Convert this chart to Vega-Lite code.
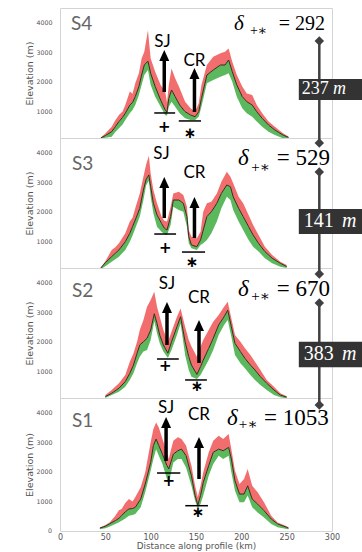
{
"$schema": "https://vega.github.io/schema/vega-lite/v6.json",
"padding": {"left": 24, "top": 7, "right": 0, "bottom": 0},
"bounds": "flush",
"spacing": 0,
"datasets": {
"t": [
{"p":"S4","x":45,"hi":120,"mid":100,"lo":60},{"p":"S4","x":50,"hi":250,"mid":180,"lo":110},{"p":"S4","x":57,"hi":485,"mid":315,"lo":145},{"p":"S4","x":61,"hi":700,"mid":480,"lo":300},{"p":"S4","x":65,"hi":880,"mid":655,"lo":430},{"p":"S4","x":69,"hi":1000,"mid":800,"lo":560},{"p":"S4","x":72,"hi":1215,"mid":935,"lo":710},{"p":"S4","x":77,"hi":1670,"mid":1215,"lo":935},{"p":"S4","x":80,"hi":1600,"mid":1300,"lo":1050},{"p":"S4","x":83,"hi":1950,"mid":1500,"lo":1215},{"p":"S4","x":87,"hi":2290,"mid":1840,"lo":1555},{"p":"S4","x":90,"hi":2795,"mid":2230,"lo":1895},{"p":"S4","x":93,"hi":3020,"mid":2570,"lo":2230},{"p":"S4","x":97,"hi":3750,"mid":2700,"lo":2400},{"p":"S4","x":100,"hi":2795,"mid":2290,"lo":1895},{"p":"S4","x":105,"hi":2345,"mid":1840,"lo":1500},{"p":"S4","x":111,"hi":1895,"mid":1385,"lo":1160},{"p":"S4","x":116,"hi":1670,"mid":1050,"lo":880},{"p":"S4","x":118,"hi":1300,"mid":980,"lo":850},{"p":"S4","x":120,"hi":1895,"mid":1440,"lo":1160},{"p":"S4","x":123,"hi":2455,"mid":1725,"lo":1330},{"p":"S4","x":127,"hi":2120,"mid":1500,"lo":1160},{"p":"S4","x":132,"hi":1780,"mid":1215,"lo":935},{"p":"S4","x":138,"hi":1330,"mid":990,"lo":765},{"p":"S4","x":144,"hi":1105,"mid":880,"lo":710},{"p":"S4","x":149,"hi":990,"mid":820,"lo":710},{"p":"S4","x":153,"hi":1275,"mid":990,"lo":820},{"p":"S4","x":156,"hi":1895,"mid":1440,"lo":1160},{"p":"S4","x":162,"hi":2570,"mid":2230,"lo":1950},{"p":"S4","x":169,"hi":2850,"mid":2400,"lo":2060},{"p":"S4","x":177,"hi":2965,"mid":2570,"lo":2175},{"p":"S4","x":182,"hi":3020,"mid":2570,"lo":2230},{"p":"S4","x":186,"hi":3130,"mid":2740,"lo":2290},{"p":"S4","x":190,"hi":2680,"mid":2345,"lo":2005},{"p":"S4","x":195,"hi":2230,"mid":1895,"lo":1500},{"p":"S4","x":201,"hi":1840,"mid":1500,"lo":1105},{"p":"S4","x":206,"hi":1610,"mid":1330,"lo":935},{"p":"S4","x":212,"hi":1555,"mid":1215,"lo":820},{"p":"S4","x":217,"hi":1215,"mid":990,"lo":655},{"p":"S4","x":223,"hi":935,"mid":765,"lo":485},{"p":"S4","x":230,"hi":655,"mid":540,"lo":315},{"p":"S4","x":237,"hi":485,"mid":370,"lo":200},{"p":"S4","x":246,"hi":260,"mid":200,"lo":90},{"p":"S4","x":252,"hi":150,"mid":120,"lo":60},
{"p":"S3","x":45,"hi":120,"mid":100,"lo":60},{"p":"S3","x":50,"hi":330,"mid":280,"lo":160},{"p":"S3","x":57,"hi":710,"mid":485,"lo":315},{"p":"S3","x":61,"hi":800,"mid":600,"lo":400},{"p":"S3","x":65,"hi":935,"mid":710,"lo":485},{"p":"S3","x":72,"hi":1275,"mid":990,"lo":710},{"p":"S3","x":77,"hi":1670,"mid":1275,"lo":990},{"p":"S3","x":80,"hi":1800,"mid":1500,"lo":1200},{"p":"S3","x":83,"hi":2120,"mid":1725,"lo":1440},{"p":"S3","x":88,"hi":2625,"mid":2120,"lo":1840},{"p":"S3","x":92,"hi":3190,"mid":2740,"lo":2400},{"p":"S3","x":95,"hi":3600,"mid":3100,"lo":2900},{"p":"S3","x":98,"hi":3900,"mid":3250,"lo":3050},{"p":"S3","x":100,"hi":3300,"mid":2850,"lo":2510},{"p":"S3","x":103,"hi":2740,"mid":2290,"lo":1950},{"p":"S3","x":107,"hi":2290,"mid":1895,"lo":1500},{"p":"S3","x":112,"hi":1840,"mid":1610,"lo":1330},{"p":"S3","x":115,"hi":1700,"mid":1450,"lo":1250},{"p":"S3","x":118,"hi":1670,"mid":1385,"lo":1215},{"p":"S3","x":122,"hi":2175,"mid":1840,"lo":1555},{"p":"S3","x":125,"hi":2625,"mid":2400,"lo":2175},{"p":"S3","x":131,"hi":2680,"mid":2400,"lo":2060},{"p":"S3","x":136,"hi":2570,"mid":2290,"lo":2005},{"p":"S3","x":140,"hi":2175,"mid":1840,"lo":1500},{"p":"S3","x":142,"hi":1385,"mid":1160,"lo":935},{"p":"S3","x":145,"hi":1160,"mid":880,"lo":765},{"p":"S3","x":151,"hi":1105,"mid":820,"lo":710},{"p":"S3","x":155,"hi":1330,"mid":1050,"lo":880},{"p":"S3","x":158,"hi":2005,"mid":1385,"lo":935},{"p":"S3","x":162,"hi":2290,"mid":1840,"lo":1050},{"p":"S3","x":167,"hi":2345,"mid":2005,"lo":1275},{"p":"S3","x":173,"hi":2625,"mid":2290,"lo":1670},{"p":"S3","x":178,"hi":3020,"mid":2625,"lo":2120},{"p":"S3","x":184,"hi":3360,"mid":2910,"lo":2510},{"p":"S3","x":188,"hi":3190,"mid":2850,"lo":2400},{"p":"S3","x":191,"hi":2965,"mid":2510,"lo":2060},{"p":"S3","x":197,"hi":2510,"mid":2120,"lo":1670},{"p":"S3","x":202,"hi":2290,"mid":1840,"lo":1385},{"p":"S3","x":208,"hi":1895,"mid":1500,"lo":1050},{"p":"S3","x":213,"hi":1555,"mid":1215,"lo":820},{"p":"S3","x":219,"hi":1215,"mid":935,"lo":655},{"p":"S3","x":226,"hi":820,"mid":655,"lo":430},{"p":"S3","x":234,"hi":540,"mid":430,"lo":260},{"p":"S3","x":243,"hi":315,"mid":260,"lo":145},{"p":"S3","x":250,"hi":200,"mid":150,"lo":100},
{"p":"S2","x":50,"hi":200,"mid":145,"lo":100},{"p":"S2","x":57,"hi":370,"mid":260,"lo":200},{"p":"S2","x":65,"hi":600,"mid":430,"lo":315},{"p":"S2","x":72,"hi":880,"mid":655,"lo":485},{"p":"S2","x":77,"hi":1330,"mid":935,"lo":710},{"p":"S2","x":81,"hi":1610,"mid":1215,"lo":935},{"p":"S2","x":85,"hi":2005,"mid":1610,"lo":1275},{"p":"S2","x":88,"hi":2400,"mid":1895,"lo":1500},{"p":"S2","x":92,"hi":2740,"mid":2005,"lo":1670},{"p":"S2","x":96,"hi":3190,"mid":2120,"lo":1725},{"p":"S2","x":100,"hi":3415,"mid":2400,"lo":2060},{"p":"S2","x":104,"hi":3700,"mid":2950,"lo":2700},{"p":"S2","x":107,"hi":3190,"mid":2625,"lo":2290},{"p":"S2","x":110,"hi":2850,"mid":2230,"lo":1950},{"p":"S2","x":114,"hi":2400,"mid":1895,"lo":1670},{"p":"S2","x":119,"hi":2005,"mid":1620,"lo":1450},{"p":"S2","x":123,"hi":2345,"mid":2005,"lo":1725},{"p":"S2","x":129,"hi":2850,"mid":2510,"lo":2230},{"p":"S2","x":133,"hi":3130,"mid":2850,"lo":2625},{"p":"S2","x":138,"hi":2510,"mid":2005,"lo":1555},{"p":"S2","x":142,"hi":2060,"mid":1500,"lo":1050},{"p":"S2","x":145,"hi":1840,"mid":1215,"lo":820},{"p":"S2","x":151,"hi":1500,"mid":900,"lo":740},{"p":"S2","x":155,"hi":1840,"mid":1160,"lo":880},{"p":"S2","x":158,"hi":2060,"mid":1385,"lo":1050},{"p":"S2","x":164,"hi":2400,"mid":1780,"lo":1385},{"p":"S2","x":169,"hi":2680,"mid":2120,"lo":1725},{"p":"S2","x":175,"hi":2910,"mid":2570,"lo":2230},{"p":"S2","x":181,"hi":3190,"mid":2850,"lo":2570},{"p":"S2","x":185,"hi":3360,"mid":3075,"lo":2740},{"p":"S2","x":189,"hi":2795,"mid":2510,"lo":2175},{"p":"S2","x":193,"hi":2230,"mid":1950,"lo":1555},{"p":"S2","x":199,"hi":2005,"mid":1670,"lo":1275},{"p":"S2","x":204,"hi":1780,"mid":1440,"lo":1105},{"p":"S2","x":210,"hi":1555,"mid":1215,"lo":880},{"p":"S2","x":215,"hi":1330,"mid":1050,"lo":710},{"p":"S2","x":221,"hi":1050,"mid":820,"lo":540},{"p":"S2","x":228,"hi":710,"mid":600,"lo":370},{"p":"S2","x":236,"hi":485,"mid":370,"lo":200},{"p":"S2","x":243,"hi":260,"mid":200,"lo":125},{"p":"S2","x":250,"hi":160,"mid":130,"lo":90},
{"p":"S1","x":44,"hi":120,"mid":100,"lo":60},{"p":"S1","x":50,"hi":200,"mid":160,"lo":90},{"p":"S1","x":55,"hi":300,"mid":250,"lo":150},{"p":"S1","x":61,"hi":520,"mid":350,"lo":240},{"p":"S1","x":65,"hi":700,"mid":430,"lo":300},{"p":"S1","x":68,"hi":745,"mid":520,"lo":350},{"p":"S1","x":72,"hi":950,"mid":650,"lo":420},{"p":"S1","x":76,"hi":1080,"mid":745,"lo":520},{"p":"S1","x":80,"hi":1000,"mid":760,"lo":540},{"p":"S1","x":83,"hi":1140,"mid":800,"lo":575},{"p":"S1","x":89,"hi":1480,"mid":1080,"lo":800},{"p":"S1","x":94,"hi":1985,"mid":1590,"lo":1310},{"p":"S1","x":100,"hi":3000,"mid":2320,"lo":2040},{"p":"S1","x":103,"hi":3450,"mid":2890,"lo":2435},{"p":"S1","x":106,"hi":3670,"mid":3110,"lo":2770},{"p":"S1","x":109,"hi":3500,"mid":2890,"lo":2550},{"p":"S1","x":113,"hi":3110,"mid":2600,"lo":2270},{"p":"S1","x":118,"hi":2660,"mid":2210,"lo":1760},{"p":"S1","x":120,"hi":2435,"mid":2100,"lo":1590},{"p":"S1","x":122,"hi":2700,"mid":2300,"lo":1900},{"p":"S1","x":125,"hi":3050,"mid":2600,"lo":2320},{"p":"S1","x":130,"hi":3170,"mid":2715,"lo":2435},{"p":"S1","x":134,"hi":3110,"mid":2770,"lo":2435},{"p":"S1","x":139,"hi":2890,"mid":2550,"lo":2150},{"p":"S1","x":145,"hi":2210,"mid":1870,"lo":1530},{"p":"S1","x":149,"hi":1530,"mid":1200,"lo":1020},{"p":"S1","x":152,"hi":1150,"mid":880,"lo":780},{"p":"S1","x":155,"hi":1530,"mid":1200,"lo":910},{"p":"S1","x":158,"hi":1985,"mid":1645,"lo":1200},{"p":"S1","x":164,"hi":2660,"mid":2210,"lo":1870},{"p":"S1","x":169,"hi":3050,"mid":2660,"lo":2270},{"p":"S1","x":175,"hi":3220,"mid":2770,"lo":2550},{"p":"S1","x":180,"hi":3110,"mid":2715,"lo":2435},{"p":"S1","x":186,"hi":3280,"mid":2830,"lo":2550},{"p":"S1","x":189,"hi":2770,"mid":2435,"lo":1985},{"p":"S1","x":193,"hi":2040,"mid":1700,"lo":1360},{"p":"S1","x":198,"hi":1590,"mid":1250,"lo":970},{"p":"S1","x":203,"hi":1760,"mid":1250,"lo":970},{"p":"S1","x":207,"hi":2100,"mid":1530,"lo":1200},{"p":"S1","x":212,"hi":1530,"mid":1080,"lo":800},{"p":"S1","x":218,"hi":1310,"mid":910,"lo":630},{"p":"S1","x":225,"hi":970,"mid":690,"lo":460},{"p":"S1","x":233,"hi":520,"mid":405,"lo":240},{"p":"S1","x":240,"hi":290,"mid":240,"lo":125},{"p":"S1","x":250,"hi":160,"mid":125,"lo":70},{"p":"S1","x":252,"hi":120,"mid":100,"lo":60}
],
"a": [
{"p":"S4","k":"lab","x":113,"y":3350,"t":"SJ"},{"p":"S4","k":"lab","x":148.3,"y":2706,"t":"CR"},
{"p":"S4","k":"arrow","x":115,"y":1658,"y2":3078},{"p":"S4","k":"arrow","x":148.3,"y":981,"y2":2470},
{"p":"S4","k":"seg","x":104,"x2":127,"y":947},{"p":"S4","k":"seg","x":131,"x2":155.5,"y":677},
{"p":"S4","k":"sym","x":115,"y":474,"t":"+"},{"p":"S4","k":"sym","x":143.4,"y":270,"t":"∗"},
{"p":"S4","k":"pl","x":12.1,"y":3755,"t":"S4"},
{"p":"S4","k":"d","x":192,"y":3755,"t":"δ"},{"p":"S4","k":"sub","x":209.5,"y":3586,"t":"+∗"},{"p":"S4","k":"val","x":292.3,"y":3755,"t":"= 292"},
{"p":"S4","k":"v","x":286,"y":3380,"y2":100},{"p":"S4","k":"dia","x":286,"y":3380},
{"p":"S4","k":"box","x":263.4,"x2":335,"y":1387,"y2":2097},{"p":"S4","k":"bn","x":296.4,"y":1742,"t":"237"},{"p":"S4","k":"bm","x":301.1,"y":1742,"t":"m"},
{"p":"S3","k":"lab","x":112,"y":3960,"t":"SJ"},{"p":"S3","k":"lab","x":148.3,"y":3300,"t":"CR"},
{"p":"S3","k":"arrow","x":115,"y":1790,"y2":3180},{"p":"S3","k":"arrow","x":148.3,"y":1115,"y2":2500},
{"p":"S3","k":"seg","x":104,"x2":128,"y":1250},{"p":"S3","k":"seg","x":134.5,"x2":160,"y":640},
{"p":"S3","k":"sym","x":116,"y":780,"t":"+"},{"p":"S3","k":"sym","x":145.6,"y":300,"t":"∗"},
{"p":"S3","k":"pl","x":13.2,"y":3417,"t":"S3"},
{"p":"S3","k":"d","x":196.3,"y":3586,"t":"δ"},{"p":"S3","k":"sub","x":210.8,"y":3350,"t":"+∗"},{"p":"S3","k":"val","x":297.8,"y":3586,"t":"= 529"},
{"p":"S3","k":"v","x":286,"y":4500,"y2":4330},{"p":"S3","k":"v","x":286,"y":3350,"y2":100},
{"p":"S3","k":"dia","x":286,"y":4330},{"p":"S3","k":"dia","x":286,"y":3350},
{"p":"S3","k":"box","x":263.4,"x2":335,"y":1252,"y2":2097},{"p":"S3","k":"bn","x":301.9,"y":1675,"t":"141"},{"p":"S3","k":"bm","x":311,"y":1675,"t":"m"},
{"p":"S2","k":"lab","x":118,"y":3960,"t":"SJ"},{"p":"S2","k":"lab","x":153.3,"y":3470,"t":"CR"},
{"p":"S2","k":"arrow","x":118,"y":1895,"y2":3350},{"p":"S2","k":"arrow","x":153.3,"y":1285,"y2":2740},
{"p":"S2","k":"seg","x":107,"x2":131,"y":1420},{"p":"S2","k":"seg","x":138,"x2":162,"y":710},
{"p":"S2","k":"sym","x":116,"y":1185,"t":"+"},{"p":"S2","k":"sym","x":151,"y":507,"t":"∗"},
{"p":"S2","k":"pl","x":13.2,"y":3518,"t":"S2"},
{"p":"S2","k":"d","x":196.3,"y":3540,"t":"δ"},{"p":"S2","k":"sub","x":210.8,"y":3383,"t":"+∗"},{"p":"S2","k":"val","x":297.8,"y":3540,"t":"= 670"},
{"p":"S2","k":"v","x":286,"y":4500,"y2":4296},{"p":"S2","k":"v","x":286,"y":3315,"y2":100},
{"p":"S2","k":"dia","x":286,"y":4296},{"p":"S2","k":"dia","x":286,"y":3315},
{"p":"S2","k":"box","x":263.4,"x2":335,"y":1140,"y2":2006},{"p":"S2","k":"bn","x":301.9,"y":1573,"t":"383"},{"p":"S2","k":"bm","x":311,"y":1573,"t":"m"},
{"p":"S1","k":"lab","x":117,"y":4160,"t":"SJ"},{"p":"S1","k":"lab","x":153.3,"y":3924,"t":"CR"},
{"p":"S1","k":"arrow","x":117,"y":2370,"y2":3860},{"p":"S1","k":"arrow","x":153.3,"y":1760,"y2":3180},
{"p":"S1","k":"seg","x":107,"x2":132.7,"y":1962},{"p":"S1","k":"seg","x":138.2,"x2":163.2,"y":856},
{"p":"S1","k":"sym","x":119.9,"y":1675,"t":"+"},{"p":"S1","k":"sym","x":152.2,"y":643,"t":"∗"},
{"p":"S1","k":"pl","x":13.2,"y":3518,"t":"S1"},
{"p":"S1","k":"d","x":184.2,"y":3586,"t":"δ"},{"p":"S1","k":"sub","x":197.2,"y":3450,"t":"+∗"},{"p":"S1","k":"val","x":296.4,"y":3586,"t":"= 1053"},
{"p":"S1","k":"v","x":286,"y":4500,"y2":4262},{"p":"S1","k":"dia","x":286,"y":4262},
{"p":"S1","k":"y0","x":-8.8,"y":0,"t":"0"}
]
},
"vconcat": [
{"width": 272, "height": 130, "layer": [
{"data":{"name":"t"},"transform":[{"filter":"datum.p=='S4'"}],"mark":{"type":"area","color":"#f26d6d","clip":true},"encoding":{"x":{"field":"x","type":"quantitative","scale":{"domain":[0,300],"nice":false},"axis":null},"y":{"field":"hi","type":"quantitative","scale":{"domain":[100,4500],"nice":false,"zero":false},"axis":{"values":[1000,2000,3000,4000],"title":"Elevation (m)","labelOverlap":false}},"y2":{"field":"mid"}}},
{"data":{"name":"t"},"transform":[{"filter":"datum.p=='S4'"}],"mark":{"type":"area","color":"#5cb85c","clip":true},"encoding":{"x":{"field":"x","type":"quantitative","axis":null},"y":{"field":"lo","type":"quantitative"},"y2":{"field":"mid"}}},
{"data":{"name":"t"},"transform":[{"filter":"datum.p=='S4'"}],"mark":{"type":"line","color":"#3a2a20","strokeWidth":1,"clip":true},"encoding":{"x":{"field":"x","type":"quantitative","axis":null},"y":{"field":"mid","type":"quantitative"}}},
{"data":{"name":"a"},"transform":[{"filter":"datum.p=='S4'&&datum.k=='seg'"}],"mark":{"type":"rule","color":"#000","strokeWidth":1.5},"encoding":{"x":{"field":"x","type":"quantitative","axis":null},"x2":{"field":"x2"},"y":{"field":"y","type":"quantitative"}}},
{"data":{"name":"a"},"transform":[{"filter":"datum.p=='S4'&&datum.k=='arrow'"}],"mark":{"type":"rule","color":"#000","strokeWidth":3.5,"y2Offset":6},"encoding":{"x":{"field":"x","type":"quantitative","axis":null},"y":{"field":"y","type":"quantitative"},"y2":{"field":"y2"}}},
{"data":{"name":"a"},"transform":[{"filter":"datum.p=='S4'&&datum.k=='arrow'"}],"mark":{"type":"point","shape":"M0,0L-1,2.2L1,2.2Z","size":100,"filled":true,"color":"#000","opacity":1},"encoding":{"x":{"field":"x","type":"quantitative","axis":null},"y":{"field":"y2","type":"quantitative"}}},
{"data":{"name":"a"},"transform":[{"filter":"datum.p=='S4'&&datum.k=='lab'"}],"mark":{"type":"text","font":"Lato","fontSize":17,"color":"#000","align":"center","baseline":"middle"},"encoding":{"x":{"field":"x","type":"quantitative","axis":null},"y":{"field":"y","type":"quantitative"},"text":{"field":"t"}}},
{"data":{"name":"a"},"transform":[{"filter":"datum.p=='S4'&&datum.k=='sym'"}],"mark":{"type":"text","font":"DejaVu Sans","fontWeight":"bold","fontSize":15,"color":"#000","align":"center","baseline":"middle"},"encoding":{"x":{"field":"x","type":"quantitative","axis":null},"y":{"field":"y","type":"quantitative"},"text":{"field":"t"}}},
{"data":{"name":"a"},"transform":[{"filter":"datum.p=='S4'&&datum.k=='pl'"}],"mark":{"type":"text","font":"Lato","fontSize":19,"color":"#666","align":"left","baseline":"alphabetic"},"encoding":{"x":{"field":"x","type":"quantitative","axis":null},"y":{"field":"y","type":"quantitative"},"text":{"field":"t"}}},
{"data":{"name":"a"},"transform":[{"filter":"datum.p=='S4'&&datum.k=='d'"}],"mark":{"type":"text","font":"Liberation Serif","fontStyle":"italic","fontSize":21,"color":"#000","align":"left","baseline":"alphabetic"},"encoding":{"x":{"field":"x","type":"quantitative","axis":null},"y":{"field":"y","type":"quantitative"},"text":{"field":"t"}}},
{"data":{"name":"a"},"transform":[{"filter":"datum.p=='S4'&&datum.k=='sub'"}],"mark":{"type":"text","font":"Liberation Serif, DejaVu Serif","fontSize":14,"color":"#000","align":"left","baseline":"alphabetic"},"encoding":{"x":{"field":"x","type":"quantitative","axis":null},"y":{"field":"y","type":"quantitative"},"text":{"field":"t"}}},
{"data":{"name":"a"},"transform":[{"filter":"datum.p=='S4'&&datum.k=='val'"}],"mark":{"type":"text","font":"Liberation Serif","fontSize":20,"color":"#000","align":"right","baseline":"alphabetic"},"encoding":{"x":{"field":"x","type":"quantitative","axis":null},"y":{"field":"y","type":"quantitative"},"text":{"field":"t"}}},
{"data":{"name":"a"},"transform":[{"filter":"datum.p=='S4'&&datum.k=='v'"}],"mark":{"type":"rule","color":"#404040","strokeWidth":2.5},"encoding":{"x":{"field":"x","type":"quantitative","axis":null},"y":{"field":"y","type":"quantitative"},"y2":{"field":"y2"}}},
{"data":{"name":"a"},"transform":[{"filter":"datum.p=='S4'&&datum.k=='dia'"}],"mark":{"type":"point","shape":"diamond","size":90,"filled":true,"color":"#404040","opacity":1},"encoding":{"x":{"field":"x","type":"quantitative","axis":null},"y":{"field":"y","type":"quantitative"}}},
{"data":{"name":"a"},"transform":[{"filter":"datum.p=='S4'&&datum.k=='box'"}],"mark":{"type":"rect","color":"#333333"},"encoding":{"x":{"field":"x","type":"quantitative","axis":null},"x2":{"field":"x2"},"y":{"field":"y","type":"quantitative"},"y2":{"field":"y2"}}},
{"data":{"name":"a"},"transform":[{"filter":"datum.p=='S4'&&datum.k=='bn'"}],"mark":{"type":"text","font":"Liberation Serif","fontSize":18,"color":"#fff","align":"right","baseline":"middle"},"encoding":{"x":{"field":"x","type":"quantitative","axis":null},"y":{"field":"y","type":"quantitative"},"text":{"field":"t"}}},
{"data":{"name":"a"},"transform":[{"filter":"datum.p=='S4'&&datum.k=='bm'"}],"mark":{"type":"text","font":"Liberation Serif","fontStyle":"italic","fontSize":18,"color":"#fff","align":"left","baseline":"middle"},"encoding":{"x":{"field":"x","type":"quantitative","axis":null},"y":{"field":"y","type":"quantitative"},"text":{"field":"t"}}}
]},
{"width": 272, "height": 130, "layer": [
{"data":{"name":"t"},"transform":[{"filter":"datum.p=='S3'"}],"mark":{"type":"area","color":"#f26d6d","clip":true},"encoding":{"x":{"field":"x","type":"quantitative","scale":{"domain":[0,300],"nice":false},"axis":null},"y":{"field":"hi","type":"quantitative","scale":{"domain":[100,4500],"nice":false,"zero":false},"axis":{"values":[1000,2000,3000,4000],"title":"Elevation (m)","labelOverlap":false}},"y2":{"field":"mid"}}},
{"data":{"name":"t"},"transform":[{"filter":"datum.p=='S3'"}],"mark":{"type":"area","color":"#5cb85c","clip":true},"encoding":{"x":{"field":"x","type":"quantitative","axis":null},"y":{"field":"lo","type":"quantitative"},"y2":{"field":"mid"}}},
{"data":{"name":"t"},"transform":[{"filter":"datum.p=='S3'"}],"mark":{"type":"line","color":"#3a2a20","strokeWidth":1,"clip":true},"encoding":{"x":{"field":"x","type":"quantitative","axis":null},"y":{"field":"mid","type":"quantitative"}}},
{"data":{"name":"a"},"transform":[{"filter":"datum.p=='S3'&&datum.k=='seg'"}],"mark":{"type":"rule","color":"#000","strokeWidth":1.5},"encoding":{"x":{"field":"x","type":"quantitative","axis":null},"x2":{"field":"x2"},"y":{"field":"y","type":"quantitative"}}},
{"data":{"name":"a"},"transform":[{"filter":"datum.p=='S3'&&datum.k=='arrow'"}],"mark":{"type":"rule","color":"#000","strokeWidth":3.5,"y2Offset":6},"encoding":{"x":{"field":"x","type":"quantitative","axis":null},"y":{"field":"y","type":"quantitative"},"y2":{"field":"y2"}}},
{"data":{"name":"a"},"transform":[{"filter":"datum.p=='S3'&&datum.k=='arrow'"}],"mark":{"type":"point","shape":"M0,0L-1,2.2L1,2.2Z","size":100,"filled":true,"color":"#000","opacity":1},"encoding":{"x":{"field":"x","type":"quantitative","axis":null},"y":{"field":"y2","type":"quantitative"}}},
{"data":{"name":"a"},"transform":[{"filter":"datum.p=='S3'&&datum.k=='lab'"}],"mark":{"type":"text","font":"Lato","fontSize":17,"color":"#000","align":"center","baseline":"middle"},"encoding":{"x":{"field":"x","type":"quantitative","axis":null},"y":{"field":"y","type":"quantitative"},"text":{"field":"t"}}},
{"data":{"name":"a"},"transform":[{"filter":"datum.p=='S3'&&datum.k=='sym'"}],"mark":{"type":"text","font":"DejaVu Sans","fontWeight":"bold","fontSize":15,"color":"#000","align":"center","baseline":"middle"},"encoding":{"x":{"field":"x","type":"quantitative","axis":null},"y":{"field":"y","type":"quantitative"},"text":{"field":"t"}}},
{"data":{"name":"a"},"transform":[{"filter":"datum.p=='S3'&&datum.k=='pl'"}],"mark":{"type":"text","font":"Lato","fontSize":19,"color":"#666","align":"left","baseline":"alphabetic"},"encoding":{"x":{"field":"x","type":"quantitative","axis":null},"y":{"field":"y","type":"quantitative"},"text":{"field":"t"}}},
{"data":{"name":"a"},"transform":[{"filter":"datum.p=='S3'&&datum.k=='d'"}],"mark":{"type":"text","font":"Liberation Serif","fontStyle":"italic","fontSize":23,"color":"#000","align":"left","baseline":"alphabetic"},"encoding":{"x":{"field":"x","type":"quantitative","axis":null},"y":{"field":"y","type":"quantitative"},"text":{"field":"t"}}},
{"data":{"name":"a"},"transform":[{"filter":"datum.p=='S3'&&datum.k=='sub'"}],"mark":{"type":"text","font":"Liberation Serif, DejaVu Serif","fontSize":15,"color":"#000","align":"left","baseline":"alphabetic"},"encoding":{"x":{"field":"x","type":"quantitative","axis":null},"y":{"field":"y","type":"quantitative"},"text":{"field":"t"}}},
{"data":{"name":"a"},"transform":[{"filter":"datum.p=='S3'&&datum.k=='val'"}],"mark":{"type":"text","font":"Liberation Serif","fontSize":23,"color":"#000","align":"right","baseline":"alphabetic"},"encoding":{"x":{"field":"x","type":"quantitative","axis":null},"y":{"field":"y","type":"quantitative"},"text":{"field":"t"}}},
{"data":{"name":"a"},"transform":[{"filter":"datum.p=='S3'&&datum.k=='v'"}],"mark":{"type":"rule","color":"#404040","strokeWidth":2.5},"encoding":{"x":{"field":"x","type":"quantitative","axis":null},"y":{"field":"y","type":"quantitative"},"y2":{"field":"y2"}}},
{"data":{"name":"a"},"transform":[{"filter":"datum.p=='S3'&&datum.k=='dia'"}],"mark":{"type":"point","shape":"diamond","size":90,"filled":true,"color":"#404040","opacity":1},"encoding":{"x":{"field":"x","type":"quantitative","axis":null},"y":{"field":"y","type":"quantitative"}}},
{"data":{"name":"a"},"transform":[{"filter":"datum.p=='S3'&&datum.k=='box'"}],"mark":{"type":"rect","color":"#333333"},"encoding":{"x":{"field":"x","type":"quantitative","axis":null},"x2":{"field":"x2"},"y":{"field":"y","type":"quantitative"},"y2":{"field":"y2"}}},
{"data":{"name":"a"},"transform":[{"filter":"datum.p=='S3'&&datum.k=='bn'"}],"mark":{"type":"text","font":"Liberation Serif","fontSize":20,"color":"#fff","align":"right","baseline":"middle"},"encoding":{"x":{"field":"x","type":"quantitative","axis":null},"y":{"field":"y","type":"quantitative"},"text":{"field":"t"}}},
{"data":{"name":"a"},"transform":[{"filter":"datum.p=='S3'&&datum.k=='bm'"}],"mark":{"type":"text","font":"Liberation Serif","fontStyle":"italic","fontSize":20,"color":"#fff","align":"left","baseline":"middle"},"encoding":{"x":{"field":"x","type":"quantitative","axis":null},"y":{"field":"y","type":"quantitative"},"text":{"field":"t"}}}
]},
{"width": 272, "height": 130, "layer": [
{"data":{"name":"t"},"transform":[{"filter":"datum.p=='S2'"}],"mark":{"type":"area","color":"#f26d6d","clip":true},"encoding":{"x":{"field":"x","type":"quantitative","scale":{"domain":[0,300],"nice":false},"axis":null},"y":{"field":"hi","type":"quantitative","scale":{"domain":[100,4500],"nice":false,"zero":false},"axis":{"values":[1000,2000,3000,4000],"title":"Elevation (m)","labelOverlap":false}},"y2":{"field":"mid"}}},
{"data":{"name":"t"},"transform":[{"filter":"datum.p=='S2'"}],"mark":{"type":"area","color":"#5cb85c","clip":true},"encoding":{"x":{"field":"x","type":"quantitative","axis":null},"y":{"field":"lo","type":"quantitative"},"y2":{"field":"mid"}}},
{"data":{"name":"t"},"transform":[{"filter":"datum.p=='S2'"}],"mark":{"type":"line","color":"#3a2a20","strokeWidth":1,"clip":true},"encoding":{"x":{"field":"x","type":"quantitative","axis":null},"y":{"field":"mid","type":"quantitative"}}},
{"data":{"name":"a"},"transform":[{"filter":"datum.p=='S2'&&datum.k=='seg'"}],"mark":{"type":"rule","color":"#000","strokeWidth":1.5},"encoding":{"x":{"field":"x","type":"quantitative","axis":null},"x2":{"field":"x2"},"y":{"field":"y","type":"quantitative"}}},
{"data":{"name":"a"},"transform":[{"filter":"datum.p=='S2'&&datum.k=='arrow'"}],"mark":{"type":"rule","color":"#000","strokeWidth":3.5,"y2Offset":6},"encoding":{"x":{"field":"x","type":"quantitative","axis":null},"y":{"field":"y","type":"quantitative"},"y2":{"field":"y2"}}},
{"data":{"name":"a"},"transform":[{"filter":"datum.p=='S2'&&datum.k=='arrow'"}],"mark":{"type":"point","shape":"M0,0L-1,2.2L1,2.2Z","size":100,"filled":true,"color":"#000","opacity":1},"encoding":{"x":{"field":"x","type":"quantitative","axis":null},"y":{"field":"y2","type":"quantitative"}}},
{"data":{"name":"a"},"transform":[{"filter":"datum.p=='S2'&&datum.k=='lab'"}],"mark":{"type":"text","font":"Lato","fontSize":17,"color":"#000","align":"center","baseline":"middle"},"encoding":{"x":{"field":"x","type":"quantitative","axis":null},"y":{"field":"y","type":"quantitative"},"text":{"field":"t"}}},
{"data":{"name":"a"},"transform":[{"filter":"datum.p=='S2'&&datum.k=='sym'"}],"mark":{"type":"text","font":"DejaVu Sans","fontWeight":"bold","fontSize":15,"color":"#000","align":"center","baseline":"middle"},"encoding":{"x":{"field":"x","type":"quantitative","axis":null},"y":{"field":"y","type":"quantitative"},"text":{"field":"t"}}},
{"data":{"name":"a"},"transform":[{"filter":"datum.p=='S2'&&datum.k=='pl'"}],"mark":{"type":"text","font":"Lato","fontSize":19,"color":"#666","align":"left","baseline":"alphabetic"},"encoding":{"x":{"field":"x","type":"quantitative","axis":null},"y":{"field":"y","type":"quantitative"},"text":{"field":"t"}}},
{"data":{"name":"a"},"transform":[{"filter":"datum.p=='S2'&&datum.k=='d'"}],"mark":{"type":"text","font":"Liberation Serif","fontStyle":"italic","fontSize":23,"color":"#000","align":"left","baseline":"alphabetic"},"encoding":{"x":{"field":"x","type":"quantitative","axis":null},"y":{"field":"y","type":"quantitative"},"text":{"field":"t"}}},
{"data":{"name":"a"},"transform":[{"filter":"datum.p=='S2'&&datum.k=='sub'"}],"mark":{"type":"text","font":"Liberation Serif, DejaVu Serif","fontSize":15,"color":"#000","align":"left","baseline":"alphabetic"},"encoding":{"x":{"field":"x","type":"quantitative","axis":null},"y":{"field":"y","type":"quantitative"},"text":{"field":"t"}}},
{"data":{"name":"a"},"transform":[{"filter":"datum.p=='S2'&&datum.k=='val'"}],"mark":{"type":"text","font":"Liberation Serif","fontSize":23,"color":"#000","align":"right","baseline":"alphabetic"},"encoding":{"x":{"field":"x","type":"quantitative","axis":null},"y":{"field":"y","type":"quantitative"},"text":{"field":"t"}}},
{"data":{"name":"a"},"transform":[{"filter":"datum.p=='S2'&&datum.k=='v'"}],"mark":{"type":"rule","color":"#404040","strokeWidth":2.5},"encoding":{"x":{"field":"x","type":"quantitative","axis":null},"y":{"field":"y","type":"quantitative"},"y2":{"field":"y2"}}},
{"data":{"name":"a"},"transform":[{"filter":"datum.p=='S2'&&datum.k=='dia'"}],"mark":{"type":"point","shape":"diamond","size":90,"filled":true,"color":"#404040","opacity":1},"encoding":{"x":{"field":"x","type":"quantitative","axis":null},"y":{"field":"y","type":"quantitative"}}},
{"data":{"name":"a"},"transform":[{"filter":"datum.p=='S2'&&datum.k=='box'"}],"mark":{"type":"rect","color":"#333333"},"encoding":{"x":{"field":"x","type":"quantitative","axis":null},"x2":{"field":"x2"},"y":{"field":"y","type":"quantitative"},"y2":{"field":"y2"}}},
{"data":{"name":"a"},"transform":[{"filter":"datum.p=='S2'&&datum.k=='bn'"}],"mark":{"type":"text","font":"Liberation Serif","fontSize":20,"color":"#fff","align":"right","baseline":"middle"},"encoding":{"x":{"field":"x","type":"quantitative","axis":null},"y":{"field":"y","type":"quantitative"},"text":{"field":"t"}}},
{"data":{"name":"a"},"transform":[{"filter":"datum.p=='S2'&&datum.k=='bm'"}],"mark":{"type":"text","font":"Liberation Serif","fontStyle":"italic","fontSize":20,"color":"#fff","align":"left","baseline":"middle"},"encoding":{"x":{"field":"x","type":"quantitative","axis":null},"y":{"field":"y","type":"quantitative"},"text":{"field":"t"}}}
]},
{"width": 272, "height": 133, "layer": [
{"data":{"name":"t"},"transform":[{"filter":"datum.p=='S1'"}],"mark":{"type":"area","color":"#f26d6d","clip":true},"encoding":{"x":{"field":"x","type":"quantitative","scale":{"domain":[0,300],"nice":false},"axis":{"values":[0,50,100,150,200,250,300],"title":"Distance along profile (km)","labelFlush":false,"labelOverlap":false}},"y":{"field":"hi","type":"quantitative","scale":{"domain":[0,4500],"nice":false},"axis":{"values":[1000,2000,3000,4000],"title":"Elevation (m)","labelOverlap":false}},"y2":{"field":"mid"}}},
{"data":{"name":"t"},"transform":[{"filter":"datum.p=='S1'"}],"mark":{"type":"area","color":"#5cb85c","clip":true},"encoding":{"x":{"field":"x","type":"quantitative"},"y":{"field":"lo","type":"quantitative"},"y2":{"field":"mid"}}},
{"data":{"name":"t"},"transform":[{"filter":"datum.p=='S1'"}],"mark":{"type":"line","color":"#3a2a20","strokeWidth":1,"clip":true},"encoding":{"x":{"field":"x","type":"quantitative"},"y":{"field":"mid","type":"quantitative"}}},
{"data":{"name":"a"},"transform":[{"filter":"datum.p=='S1'&&datum.k=='seg'"}],"mark":{"type":"rule","color":"#000","strokeWidth":1.5},"encoding":{"x":{"field":"x","type":"quantitative"},"x2":{"field":"x2"},"y":{"field":"y","type":"quantitative"}}},
{"data":{"name":"a"},"transform":[{"filter":"datum.p=='S1'&&datum.k=='arrow'"}],"mark":{"type":"rule","color":"#000","strokeWidth":3.5,"y2Offset":6},"encoding":{"x":{"field":"x","type":"quantitative"},"y":{"field":"y","type":"quantitative"},"y2":{"field":"y2"}}},
{"data":{"name":"a"},"transform":[{"filter":"datum.p=='S1'&&datum.k=='arrow'"}],"mark":{"type":"point","shape":"M0,0L-1,2.2L1,2.2Z","size":100,"filled":true,"color":"#000","opacity":1},"encoding":{"x":{"field":"x","type":"quantitative"},"y":{"field":"y2","type":"quantitative"}}},
{"data":{"name":"a"},"transform":[{"filter":"datum.p=='S1'&&datum.k=='lab'"}],"mark":{"type":"text","font":"Lato","fontSize":17,"color":"#000","align":"center","baseline":"middle"},"encoding":{"x":{"field":"x","type":"quantitative"},"y":{"field":"y","type":"quantitative"},"text":{"field":"t"}}},
{"data":{"name":"a"},"transform":[{"filter":"datum.p=='S1'&&datum.k=='sym'"}],"mark":{"type":"text","font":"DejaVu Sans","fontWeight":"bold","fontSize":15,"color":"#000","align":"center","baseline":"middle"},"encoding":{"x":{"field":"x","type":"quantitative"},"y":{"field":"y","type":"quantitative"},"text":{"field":"t"}}},
{"data":{"name":"a"},"transform":[{"filter":"datum.p=='S1'&&datum.k=='pl'"}],"mark":{"type":"text","font":"Lato","fontSize":19,"color":"#666","align":"left","baseline":"alphabetic"},"encoding":{"x":{"field":"x","type":"quantitative"},"y":{"field":"y","type":"quantitative"},"text":{"field":"t"}}},
{"data":{"name":"a"},"transform":[{"filter":"datum.p=='S1'&&datum.k=='d'"}],"mark":{"type":"text","font":"Liberation Serif","fontStyle":"italic","fontSize":23,"color":"#000","align":"left","baseline":"alphabetic"},"encoding":{"x":{"field":"x","type":"quantitative"},"y":{"field":"y","type":"quantitative"},"text":{"field":"t"}}},
{"data":{"name":"a"},"transform":[{"filter":"datum.p=='S1'&&datum.k=='sub'"}],"mark":{"type":"text","font":"Liberation Serif, DejaVu Serif","fontSize":15,"color":"#000","align":"left","baseline":"alphabetic"},"encoding":{"x":{"field":"x","type":"quantitative"},"y":{"field":"y","type":"quantitative"},"text":{"field":"t"}}},
{"data":{"name":"a"},"transform":[{"filter":"datum.p=='S1'&&datum.k=='val'"}],"mark":{"type":"text","font":"Liberation Serif","fontSize":23,"color":"#000","align":"right","baseline":"alphabetic"},"encoding":{"x":{"field":"x","type":"quantitative"},"y":{"field":"y","type":"quantitative"},"text":{"field":"t"}}},
{"data":{"name":"a"},"transform":[{"filter":"datum.p=='S1'&&datum.k=='v'"}],"mark":{"type":"rule","color":"#404040","strokeWidth":2.5},"encoding":{"x":{"field":"x","type":"quantitative"},"y":{"field":"y","type":"quantitative"},"y2":{"field":"y2"}}},
{"data":{"name":"a"},"transform":[{"filter":"datum.p=='S1'&&datum.k=='dia'"}],"mark":{"type":"point","shape":"diamond","size":90,"filled":true,"color":"#404040","opacity":1},"encoding":{"x":{"field":"x","type":"quantitative"},"y":{"field":"y","type":"quantitative"}}},
{"data":{"name":"a"},"transform":[{"filter":"datum.p=='S1'&&datum.k=='y0'"}],"mark":{"type":"text","font":"DejaVu Sans","fontSize":6.3,"color":"#555","align":"right","baseline":"middle"},"encoding":{"x":{"field":"x","type":"quantitative"},"y":{"field":"y","type":"quantitative"},"text":{"field":"t"}}}
]}
],
"config": {
"view": {"stroke": "#d4d4d4", "strokeWidth": 1},
"axis": {"grid": false, "ticks": false, "domain": false, "format": "d", "labelOverlap": false, "labelFont": "DejaVu Sans", "labelColor": "#555", "titleFont": "DejaVu Sans", "titleColor": "#555", "titleFontWeight": "normal"},
"axisY": {"labelFontSize": 6.3, "labelPadding": 8, "titleFontSize": 9.5, "titlePadding": 1},
"axisX": {"labelFontSize": 8, "labelPadding": 2, "titleFontSize": 8.8, "titlePadding": 0}
}
}
